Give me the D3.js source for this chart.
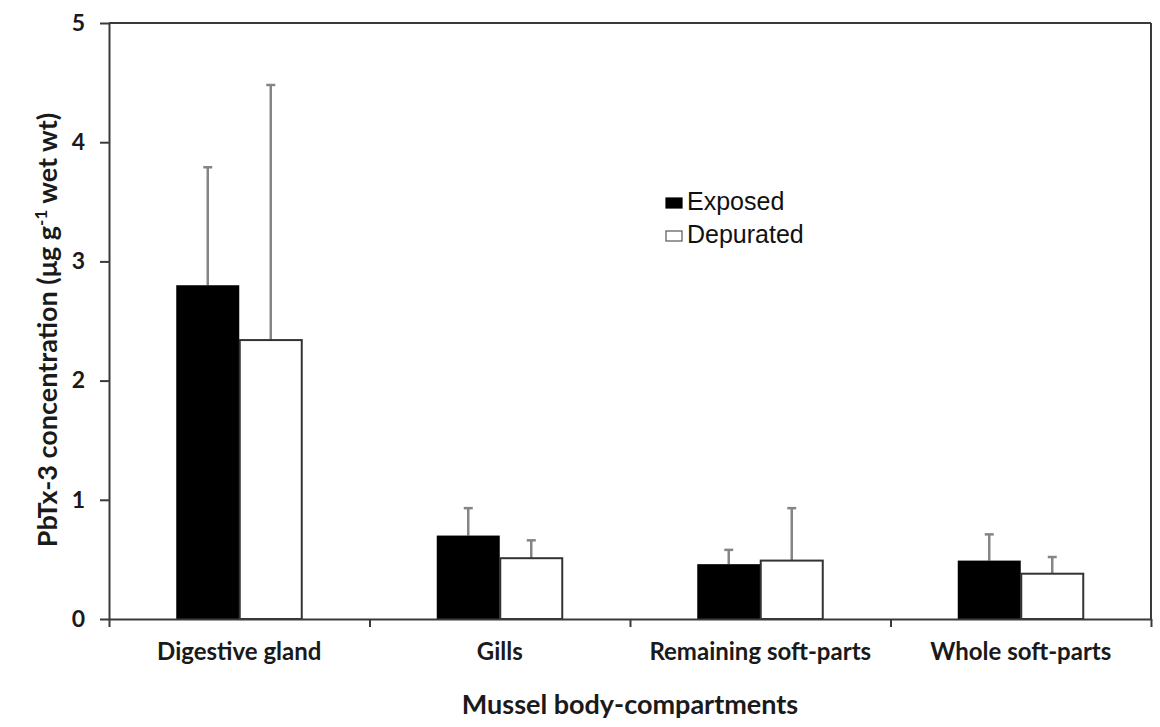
<!DOCTYPE html>
<html><head><meta charset="utf-8">
<script src="https://cdn.jsdelivr.net/npm/d3@7"></script>
<style>body{margin:0;background:#fff}svg{display:block}</style>
</head><body>
<svg id="c" width="1160" height="727"></svg>
<script>
const categories = ["Digestive gland", "Gills", "Remaining soft-parts", "Whole soft-parts"];
const series = ["Exposed", "Depurated"];
const exposedMean = [2.80, 0.70, 0.46, 0.49];
const exposedErr  = [0.99, 0.23, 0.12, 0.22];
const depuratedMean = [2.34, 0.51, 0.49, 0.38];
const depuratedErr  = [2.14, 0.15, 0.44, 0.14];
const yTicks = [0, 1, 2, 3, 4, 5];

(function(){
const svg = d3.select("#c");
const mLeft = 109, mRight = 1151, mTop = 23, mBottom = 619;
const x = d3.scaleBand().domain(categories).range([mLeft, mRight]).padding(0);
const y = d3.scaleLinear().domain([0, 5]).range([mBottom, mTop]);
const bw = x.bandwidth();
const barW = 63;
const x1 = d3.scaleBand().domain(series).range([bw/2 - barW, bw/2 + barW]).padding(0);

const data = [];
categories.forEach((c, i) => {
  data.push({cat: c, s: "Exposed", v: exposedMean[i], e: exposedErr[i]});
  data.push({cat: c, s: "Depurated", v: depuratedMean[i], e: depuratedErr[i]});
});

const axisColor = "#3a3a3a";
const labelFont = "Lato, 'Open Sans', sans-serif";

const eg = svg.append("g");
data.forEach(d => {
  const cx = x(d.cat) + x1(d.s) + x1.bandwidth()/2;
  eg.append("line").attr("x1", cx).attr("x2", cx).attr("y1", y(d.v)).attr("y2", y(d.v + d.e))
    .attr("stroke", "#858585").attr("stroke-width", 2.5);
  eg.append("line").attr("x1", cx - 4.5).attr("x2", cx + 4.5).attr("y1", y(d.v + d.e)).attr("y2", y(d.v + d.e))
    .attr("stroke", "#858585").attr("stroke-width", 2.5);
});

svg.append("g").selectAll("rect").data(data).join("rect")
  .attr("x", d => x(d.cat) + x1(d.s) + (d.s === "Exposed" ? 0 : 0.5))
  .attr("y", d => y(d.v))
  .attr("width", d => x1.bandwidth() - (d.s === "Exposed" ? 0 : 1))
  .attr("height", d => mBottom - y(d.v))
  .attr("fill", d => d.s === "Exposed" ? "#000" : "#fff")
  .attr("stroke", d => d.s === "Exposed" ? "none" : "#333")
  .attr("stroke-width", 2);

svg.append("line").attr("x1", mLeft).attr("x2", mRight).attr("y1", mTop).attr("y2", mTop)
  .attr("stroke", axisColor).attr("stroke-width", 2);
svg.append("line").attr("x1", mRight).attr("x2", mRight).attr("y1", mTop).attr("y2", mBottom)
  .attr("stroke", axisColor).attr("stroke-width", 2);

const ya = svg.append("g").attr("transform", `translate(${mLeft},0)`)
  .call(d3.axisLeft(y).tickValues(yTicks).tickFormat(d3.format("d")).tickSize(9).tickPadding(15).tickSizeOuter(0));
ya.select(".domain").attr("stroke", axisColor).attr("stroke-width", 2);
ya.selectAll(".tick line").attr("stroke", axisColor).attr("stroke-width", 2);
ya.selectAll(".tick text").attr("font-family", labelFont).attr("font-weight", "bold").attr("font-size", 23).attr("fill", "#1a1a1a");

const xb = d3.scaleLinear().domain([0, categories.length]).range([mLeft, mRight]);
const xa = svg.append("g").attr("transform", `translate(0,${mBottom})`)
  .call(d3.axisBottom(xb).tickValues(d3.range(categories.length + 1)).tickFormat("").tickSize(8).tickSizeOuter(0));
xa.select(".domain").attr("stroke", axisColor).attr("stroke-width", 2);
xa.selectAll(".tick line").attr("stroke", axisColor).attr("stroke-width", 2);

const xl = svg.append("g").attr("transform", `translate(0,${mBottom})`)
  .call(d3.axisBottom(x).tickSize(0).tickPadding(24));
xl.select(".domain").remove();
xl.selectAll(".tick text").attr("font-family", labelFont).attr("font-weight", "bold").attr("font-size", 24).attr("fill", "#1a1a1a");

svg.append("text").attr("x", (mLeft + mRight)/2).attr("y", 714).attr("text-anchor", "middle")
  .attr("font-family", labelFont).attr("font-weight", "bold").attr("font-size", 27).attr("fill", "#1a1a1a")
  .text("Mussel body-compartments");

const yt = svg.append("text").attr("transform", "translate(57,330) rotate(-90)").attr("text-anchor", "middle")
  .attr("font-family", labelFont).attr("font-weight", "bold").attr("font-size", 27).attr("fill", "#1a1a1a");
yt.append("tspan").text("PbTx-3 concentration (μg g");
yt.append("tspan").attr("font-size", 17).attr("dy", -10).text("-1");
yt.append("tspan").attr("dy", 10).text(" wet wt)");

const lg = svg.append("g");
series.forEach((s, i) => {
  const yy = 198 + i * 33;
  lg.append("rect").attr("x", 666).attr("y", yy).attr("width", 16).attr("height", 10)
    .attr("fill", s === "Exposed" ? "#000" : "#fff").attr("stroke", s === "Exposed" ? "#000" : "#555").attr("stroke-width", 1.2);
  lg.append("text").attr("x", 687).attr("y", yy + 12).attr("font-family", "Liberation Sans, Arial")
    .attr("font-size", 25).attr("fill", "#111").text(s);
});
})();
</script>
</body></html>
